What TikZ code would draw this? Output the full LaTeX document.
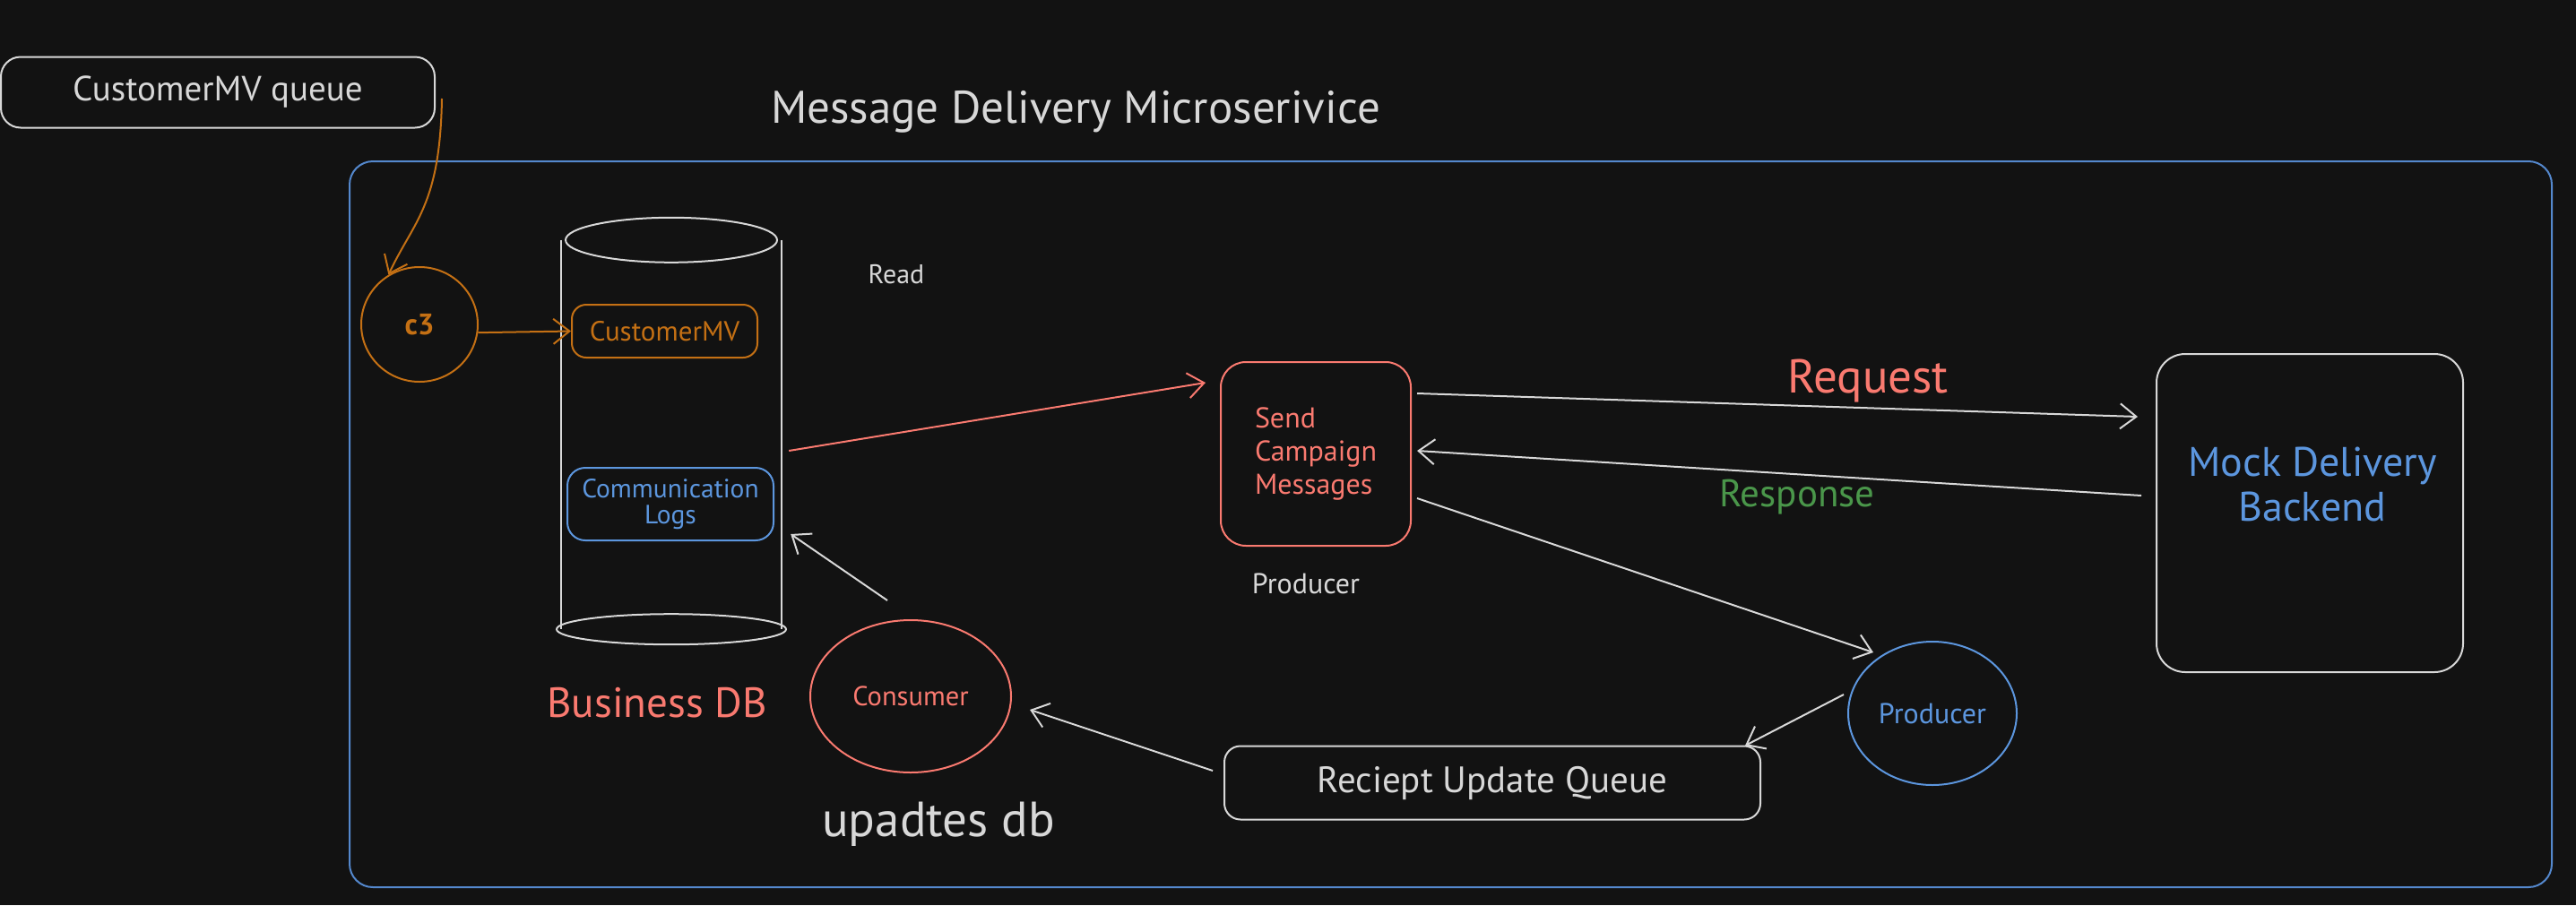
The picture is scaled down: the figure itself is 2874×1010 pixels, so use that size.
\documentclass[tikz,border=0pt]{standalone}
\usepackage{fontspec}
\setmainfont{PT Sans}
\usetikzlibrary{arrows.meta,shapes.geometric,calc}
\definecolor{bg}{HTML}{121212}
\definecolor{wht}{HTML}{D8D8D8}
\definecolor{org}{RGB}{196,112,20}
\definecolor{rd}{RGB}{250,122,112}
\definecolor{bl}{RGB}{92,150,222}
\definecolor{cbl}{RGB}{84,136,205}
\definecolor{grn}{RGB}{74,150,74}
\newcommand\fsz[1]{\fontsize{#1}{#1}\selectfont}
\begin{document}
\begin{tikzpicture}[x=1pt,y=-1pt,
  box/.style={draw=#1, line width=2pt, rounded corners=22pt, inner sep=0pt},
  circ/.style={ellipse, draw=#1, line width=2pt, inner sep=0pt},
  arr/.style={draw=#1, line width=2pt, -{Straight Barb[length=18pt,width=28pt,line width=2pt]}},
  lbl/.style={text=#1, inner sep=0pt, align=center}
]
\useasboundingbox[fill=bg] (0,0) rectangle (2874,1010);

% container
\node[box=cbl, rounded corners=26pt, minimum width=2457pt, minimum height=810pt] (ms) at (1618.5,585) {};
\node[lbl=wht, font=\fsz{51}] (title) at (1200,125) {Message Delivery Microserivice};

% queue
\node[box=wht, minimum width=484pt, minimum height=79pt, font=\fsz{39}, text=wht] (queue) at (243,103) {CustomerMV queue};

% c3
\node[circ=org, minimum width=130pt, minimum height=128pt, font=\bfseries\fsz{33}, text=org] (c3) at (468,362) {c3};

% database cylinder
\node[inner sep=0pt, minimum width=246pt, minimum height=434pt] (db) at (749,485) {};
\draw[wht, line width=2pt] (db.north) ellipse [x radius=118, y radius=25];
\draw[wht, line width=2pt] (db.north west) -- (db.south west);
\draw[wht, line width=2pt] (db.north east) -- (db.south east);
\draw[wht, line width=2pt] (db.south) ellipse [x radius=128, y radius=17];
\node[box=org, rounded corners=16pt, minimum width=207pt, minimum height=59pt, font=\fsz{31}, text=org] (custmv) at (741.5,369.5) {CustomerMV};
\node[box=bl, rounded corners=20pt, minimum width=230pt, minimum height=81pt, font=\fsz{29.5}, text=bl, align=center] (commlogs) at (748,562.5) {Communication\\Logs};
\node[lbl=rd, font=\fsz{47}] (bdb) at (733,784) {Business DB};

\node[lbl=wht, font=\fsz{30}] (read) at (1000,306) {Read};

% send campaign
\node[box=rd, rounded corners=28pt, minimum width=212pt, minimum height=205pt, font=\fsz{32}, text=rd, align=left] (send) at (1468,506.5) {Send\\[5pt]Campaign\\[5pt]Messages};
\node[lbl=wht, font=\fsz{32}] (prodlbl) at (1457,651) {Producer};

% mock backend
\node[box=wht, rounded corners=32pt, minimum width=342pt, minimum height=355pt] (mock) at (2577,572.5) {};
\node[lbl=bl, font=\fsz{46}] (mocktxt) at (2580,540) {Mock Delivery\\[4pt]Backend};

\node[lbl=rd, font=\fsz{53}] (req) at (2084,425) {Request};
\node[lbl=grn, font=\fsz{43}] (resp) at (2005,555) {Response};

% producer, queue, consumer
\node[circ=bl, minimum width=188pt, minimum height=160pt, font=\fsz{32}, text=bl] (producer) at (2156,796) {Producer};
\node[box=wht, rounded corners=18pt, minimum width=598pt, minimum height=82pt, font=\fsz{41}, text=wht] (rq) at (1665,873.5) {Reciept Update Queue};
\node[circ=rd, minimum width=224pt, minimum height=170pt, font=\fsz{30.5}, text=rd] (consumer) at (1016,777) {Consumer};
\node[lbl=wht, font=\fsz{55}] (upd) at (1047,920) {upadtes db};

% connectors
\draw[arr=org] ($(queue.east)+(7,7)$) .. controls +(-2,120) and +(28,-60) .. (c3.122);
\draw[arr=org] (c3.-8) -- (custmv.west);
\draw[arr=rd] ($(db.east)+(8,18)$) -- ($(send.north west)+(-16,24)$);
\draw[arr=wht] ($(send.north east)+(6,36)$) -- ($(mock.north west)+(-20,71)$);
\draw[arr=wht] ($(mock.west)+(-16,-19.5)$) -- ($(send.east)+(6,-3.5)$);
\draw[arr=wht] ($(send.east)+(6,49.5)$) -- ($(producer.center)+(-66,-68)$);
\draw[arr=wht] ($(producer.center)+(-99,-21)$) -- ($(rq.north east)+(-18,0.5)$);
\draw[arr=wht] ($(rq.west)+(-12,-13.5)$) -- ($(consumer.center)+(133,15)$);
\draw[arr=wht] ($(consumer.north)+(-26,-21)$) -- ($(db.east)+(10,111)$);
\end{tikzpicture}
\end{document}
